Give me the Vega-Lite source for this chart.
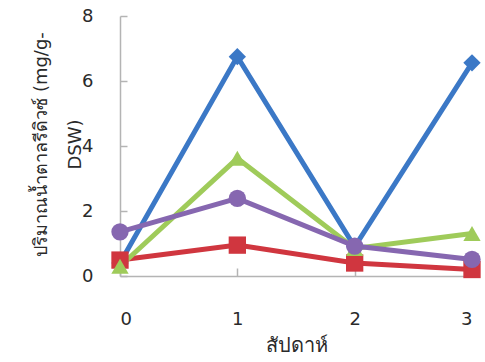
{
  "$schema": "https://vega.github.io/schema/vega-lite/v6.json",
  "width": 352,
  "height": 260,
  "autosize": {"type": "none"},
  "padding": {"left": 120, "top": 16, "right": 13, "bottom": 86},
  "background": "white",
  "config": {
    "view": {"stroke": null},
    "font": "DejaVu Sans",
    "axis": {
      "grid": false,
      "domainColor": "#b4b4b4",
      "domainWidth": 1.5,
      "tickColor": "#b4b4b4",
      "tickWidth": 1.5,
      "labelColor": "#2a2a2a",
      "titleColor": "#2a2a2a",
      "labelFontSize": 18,
      "titleFontWeight": "normal"
    }
  },
  "data": {
    "values": [
      {"week": 0, "series": "ชุด 1", "sugar": 0.4},
      {"week": 1, "series": "ชุด 1", "sugar": 6.75},
      {"week": 2, "series": "ชุด 1", "sugar": 0.9},
      {"week": 3, "series": "ชุด 1", "sugar": 6.56},
      {"week": 0, "series": "ชุด 2", "sugar": 0.49},
      {"week": 1, "series": "ชุด 2", "sugar": 0.95},
      {"week": 2, "series": "ชุด 2", "sugar": 0.4},
      {"week": 3, "series": "ชุด 2", "sugar": 0.2},
      {"week": 0, "series": "ชุด 3", "sugar": 0.3},
      {"week": 1, "series": "ชุด 3", "sugar": 3.62},
      {"week": 2, "series": "ชุด 3", "sugar": 0.85},
      {"week": 3, "series": "ชุด 3", "sugar": 1.31},
      {"week": 0, "series": "ชุด 4", "sugar": 1.36},
      {"week": 1, "series": "ชุด 4", "sugar": 2.39},
      {"week": 2, "series": "ชุด 4", "sugar": 0.92},
      {"week": 3, "series": "ชุด 4", "sugar": 0.51}
    ]
  },
  "encoding": {
    "x": {
      "field": "week",
      "type": "quantitative",
      "scale": {"domain": [0, 3], "nice": false, "zero": false},
      "axis": {
        "values": [0, 1, 2, 3],
        "format": "d",
        "tickSize": -8,
        "labelPadding": 42,
        "title": "สัปดาห์",
        "titleFontSize": 20,
        "titlePadding": 7
      }
    },
    "y": {
      "field": "sugar",
      "type": "quantitative",
      "scale": {"domain": [0, 8], "nice": false},
      "axis": {
        "values": [0, 2, 4, 6, 8],
        "tickSize": -7,
        "labelPadding": 34,
        "title": ["ปริมาณน้ำตาลรีดิวซ์ (mg/g-", "DSW)"],
        "titleFontSize": 18,
        "titleX": -70,
        "titleY": 128,
        "titleAlign": "center",
        "titleAngle": -90,
        "titleLineHeight": 34
      }
    },
    "color": {
      "field": "series",
      "type": "nominal",
      "scale": {
        "domain": ["ชุด 1", "ชุด 2", "ชุด 3", "ชุด 4"],
        "range": ["#3b78c6", "#d0363f", "#9fcb5a", "#8667b0"]
      },
      "legend": null
    }
  },
  "layer": [
    {
      "mark": {"type": "line", "strokeWidth": 5, "strokeJoin": "miter"}
    },
    {
      "mark": {"type": "point", "filled": true, "opacity": 1, "size": 300},
      "encoding": {
        "shape": {
          "field": "series",
          "type": "nominal",
          "scale": {
            "domain": ["ชุด 1", "ชุด 2", "ชุด 3", "ชุด 4"],
            "range": ["diamond", "square", "triangle-up", "circle"]
          },
          "legend": null
        }
      }
    }
  ]
}
